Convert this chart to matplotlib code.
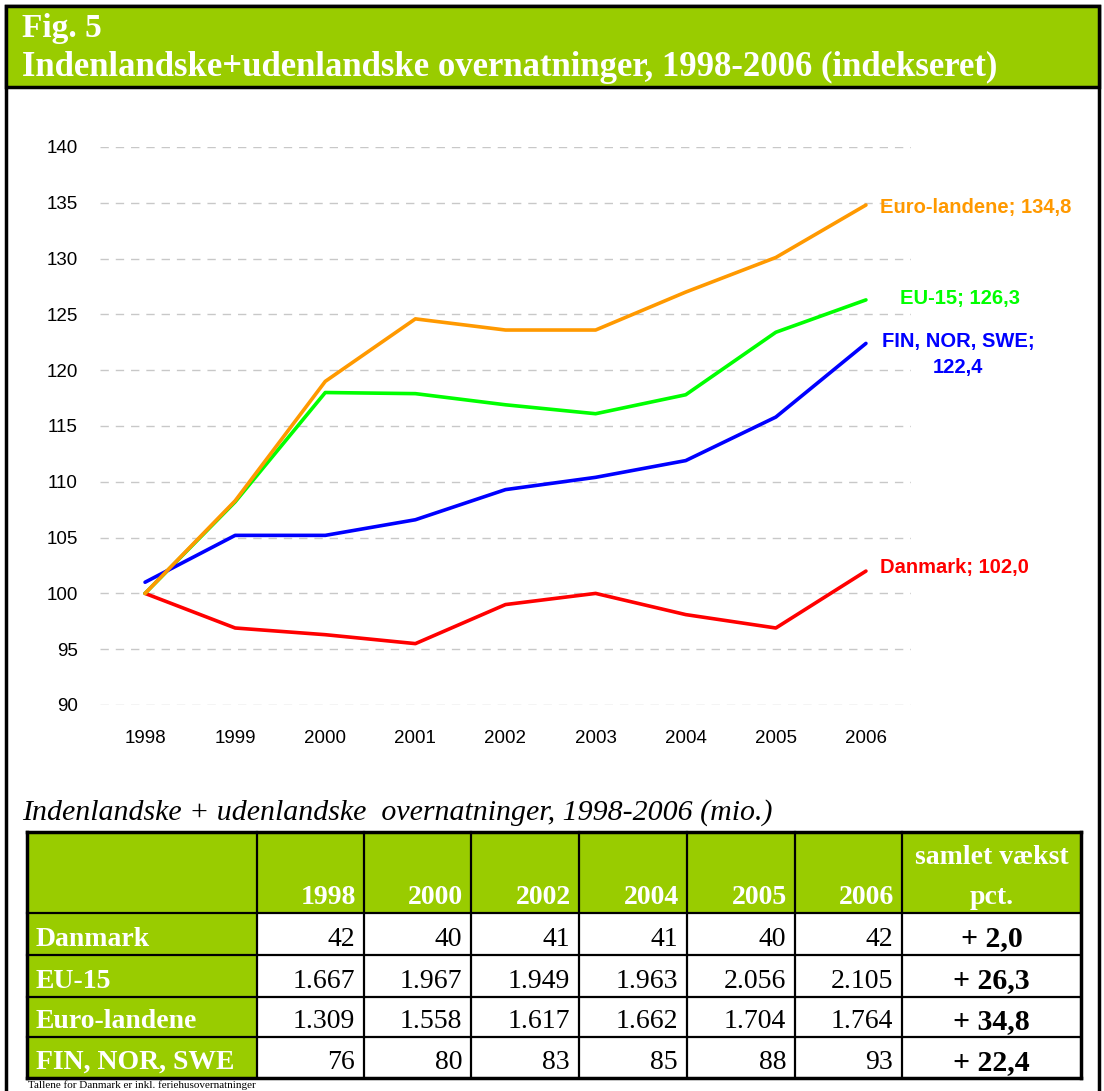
import matplotlib.pyplot as plt
from matplotlib.patches import Rectangle

# chart data (index, 1998 = 100)
years = ["1998", "1999", "2000", "2001", "2002", "2003", "2004", "2005", "2006"]
danmark = [100, 96.9, 96.3, 95.5, 99.0, 100.0, 98.1, 96.9, 102.0]
eu15 = [100, 108.2, 118.0, 117.9, 116.9, 116.1, 117.8, 123.4, 126.3]
euro = [100, 108.3, 119.0, 124.6, 123.6, 123.6, 127.0, 130.1, 134.8]
nordic = [101.0, 105.2, 105.2, 106.6, 109.3, 110.4, 111.9, 115.8, 122.4]
yticks = [90, 95, 100, 105, 110, 115, 120, 125, 130, 135, 140]

# table data (mio. overnatninger)
table_years = ["1998", "2000", "2002", "2004", "2005", "2006"]
table_rows = ["Danmark", "EU-15", "Euro-landene", "FIN, NOR, SWE"]
table_values = [
    ["42", "40", "41", "41", "40", "42"],
    ["1.667", "1.967", "1.949", "1.963", "2.056", "2.105"],
    ["1.309", "1.558", "1.617", "1.662", "1.704", "1.764"],
    ["76", "80", "83", "85", "88", "93"],
]
table_growth = ["+ 2,0", "+ 26,3", "+ 34,8", "+ 22,4"]

W, H = 1104, 1091
GREEN = "#99CC00"
SERIF = "Liberation Serif"
SANS = "Liberation Sans"


def fx(x):
    return x / W


def fy(y):
    return 1 - y / H


fig = plt.figure(figsize=(W / 100, H / 100), dpi=100)

# outer frame + green header
fig.patches.append(Rectangle((fx(6), fy(1100)), fx(1099) - fx(6), fy(6) - fy(1100),
                             transform=fig.transFigure, fill=False, ec="black", lw=2.5))
fig.patches.append(Rectangle((fx(6), fy(87)), fx(1099) - fx(6), fy(6) - fy(87),
                             transform=fig.transFigure, fc=GREEN, ec="black", lw=2.5))
fig.text(fx(22), fy(28), "Fig. 5", color="white", fontsize=24, fontweight="bold",
         family=SERIF, va="center")
fig.text(fx(22), fy(67), "Indenlandske+udenlandske overnatninger, 1998-2006 (indekseret)",
         color="white", fontsize=25, fontweight="bold", family=SERIF, va="center")

# line chart
ax = fig.add_axes([fx(100), fy(705), fx(911) - fx(100), fy(147) - fy(705)])
x = range(len(years))
series = [
    (danmark, "#FF0000", "Danmark; 102,0"),
    (eu15, "#00FF00", "EU-15; 126,3"),
    (nordic, "#0000FF", "FIN, NOR, SWE;\n122,4"),
    (euro, "#FF9900", "Euro-landene; 134,8"),
]
for vals, col, lab in series:
    ax.plot(x, vals, color=col, lw=2.6, clip_on=False, solid_capstyle="round", zorder=3)

ax.set_xlim(-0.5, len(years) - 0.5)
ax.set_ylim(90, 140)
ax.set_yticks(yticks)
ax.set_xticks(list(x))
ax.set_xticklabels(years)
ax.tick_params(length=0, labelsize=13.5)
ax.tick_params(axis="y", pad=16)
ax.tick_params(axis="x", pad=18)
for lbl in ax.get_xticklabels() + ax.get_yticklabels():
    lbl.set_family(SANS)
ax.grid(axis="y", color="#C8C8C8", lw=1, ls=(0, (6, 5)))
for s in ax.spines.values():
    s.set_visible(False)

# end labels
last = len(years) - 1
lab_kw = dict(fontsize=14.5, fontweight="bold", family=SANS, va="center")
ax.text(last + 0.16, euro[-1] - 0.2, series[3][2], color="#FF9900", ha="left", **lab_kw)
ax.text(last + 0.38, eu15[-1] + 0.1, series[1][2], color="#00FF00", ha="left", **lab_kw)
ax.text(last + 1.02, nordic[-1] - 1.0, series[2][2], color="#0000FF", ha="center",
        linespacing=1.45, **lab_kw)
ax.text(last + 0.16, danmark[-1] + 0.3, series[0][2], color="#FF0000", ha="left", **lab_kw)

# table caption
fig.text(fx(22), fy(813), "Indenlandske + udenlandske  overnatninger, 1998-2006 (mio.)",
         fontsize=21.5, style="italic", family=SERIF, va="center")

# table
col_edges = [27, 257, 364, 471, 579, 687, 795, 902, 1081]
row_edges = [832, 913, 955, 997, 1037, 1078]
nrows = len(row_edges) - 1
ncols = len(col_edges) - 1
for r in range(nrows):
    for c in range(ncols):
        if r == 0 or c == 0:
            x0, x1 = col_edges[c], col_edges[c + 1]
            y0, y1 = row_edges[r], row_edges[r + 1]
            fig.patches.append(Rectangle((fx(x0), fy(y1)), fx(x1) - fx(x0), fy(y0) - fy(y1),
                                         transform=fig.transFigure, fc=GREEN, ec="none"))
for i, xe in enumerate(col_edges):
    lw = 2.5 if i in (0, ncols) else 1.6
    fig.add_artist(plt.Line2D([fx(xe), fx(xe)], [fy(row_edges[0]), fy(row_edges[-1])],
                              transform=fig.transFigure, color="black", lw=lw))
for i, ye in enumerate(row_edges):
    lw = 2.5 if i in (0, nrows) else 1.6
    fig.add_artist(plt.Line2D([fx(col_edges[0]), fx(col_edges[-1])], [fy(ye), fy(ye)],
                              transform=fig.transFigure, color="black", lw=lw))

# header texts
for j, yr in enumerate(table_years):
    fig.text(fx(col_edges[j + 2] - 8), fy(row_edges[1] - 15), yr, color="white",
             fontsize=20, fontweight="bold", family=SERIF, ha="right", va="center")
gx = (col_edges[-2] + col_edges[-1]) / 2
fig.text(fx(gx), fy(857), "samlet vækst", color="white", fontsize=20,
         fontweight="bold", family=SERIF, ha="center", va="center")
fig.text(fx(gx), fy(row_edges[1] - 15), "pct.", color="white", fontsize=20,
         fontweight="bold", family=SERIF, ha="center", va="center")

# body texts
for i, name in enumerate(table_rows):
    yc = (row_edges[i + 1] + row_edges[i + 2]) / 2 + 5
    fig.text(fx(36), fy(yc), name, color="white", fontsize=20, fontweight="bold",
             family=SERIF, ha="left", va="center")
    for j, v in enumerate(table_values[i]):
        fig.text(fx(col_edges[j + 2] - 9), fy(yc), v, color="black", fontsize=20,
                 family=SERIF, ha="right", va="center")
    fig.text(fx(gx), fy(yc), table_growth[i], color="black", fontsize=21.5,
             fontweight="bold", family=SERIF, ha="center", va="center")

fig.text(fx(28), fy(1090.5), "Tallene for Danmark er inkl. feriehusovernatninger",
         fontsize=8, family=SERIF, va="bottom")

fig.savefig("out.png", dpi=100)
